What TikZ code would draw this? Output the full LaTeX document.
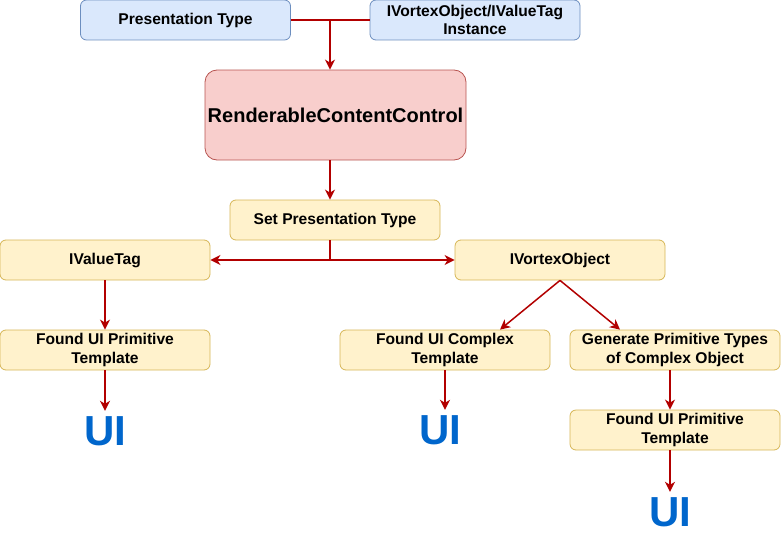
\documentclass[tikz,border=0pt]{standalone}
\usepackage{fontspec}
\setmainfont{Liberation Sans}
\usetikzlibrary{arrows.meta,calc}
\definecolor{bluefill}{HTML}{DAE8FC}
\definecolor{bluedraw}{HTML}{6C8EBF}
\definecolor{redfill}{HTML}{F8CECC}
\definecolor{reddraw}{HTML}{B85450}
\definecolor{yelfill}{HTML}{FFF2CC}
\definecolor{yeldraw}{HTML}{D6B656}
\definecolor{arrred}{HTML}{B20000}
\definecolor{uiblue}{HTML}{0066CC}
\begin{document}
\begin{tikzpicture}[x=1pt,y=-1pt,
  box/.style={rectangle,rounded corners=6pt,line width=0.8pt,minimum width=210pt,minimum height=40pt,
    inner sep=0pt,align=center,font=\fontsize{15.6}{18.7}\selectfont\bfseries},
  bluebox/.style={box,fill=bluefill,draw=bluedraw},
  redbox/.style={box,fill=redfill,draw=reddraw,rounded corners=12pt,minimum width=261pt,minimum height=90pt,
    font=\fontsize{20}{24}\selectfont\bfseries},
  yelbox/.style={box,fill=yelfill,draw=yeldraw},
  uitext/.style={inner sep=0pt,text height=30pt,text depth=0pt,text=uiblue,
    font=\fontsize{42}{42}\selectfont\bfseries},
  conn/.style={draw=arrred,line width=1.5pt},
  arr/.style={conn,-{Stealth[length=10pt,width=10pt,inset=3pt]}}]
\useasboundingbox (0,0) rectangle (781,535);
\node[bluebox] (pt) at (185.5,20) {Presentation Type};
\node[bluebox] (inst) at (475,20) {IVortexObject/IValueTag\\Instance};
\node[redbox] (rcc) at (335.5,115) {RenderableContentControl};
\node[yelbox] (set) at (335,220) {Set Presentation Type};
\node[yelbox] (ivt) at (105,260) {IValueTag};
\node[yelbox] (ivo) at (560,260) {IVortexObject};
\node[yelbox] (fpl) at (105,350) {Found UI Primitive\\Template};
\node[yelbox] (fc) at (445,350) {Found UI Complex\\Template};
\node[yelbox] (gen) at (675,350) {Generate Primitive Types\\of Complex Object};
\node[yelbox] (fpr) at (675,430) {Found UI Primitive\\Template};
\node[uitext] (ui1) at (105,430) {UI};
\node[uitext] (ui2) at (440,429) {UI};
\node[uitext] (ui3) at (670,511) {UI};
\coordinate (j1) at (330,20);
\coordinate (j2) at (330,260);
\draw[conn] (pt.east) -- (inst.west);
\draw[arr] (j1) -- (j1 |- rcc.north);
\draw[arr] (rcc.south -| j1) -- (j1 |- set.north);
\draw[conn] (j1 |- set.south) -- (j2);
\draw[arr] (j2) -- (ivt.east);
\draw[arr] (j2) -- (ivo.west);
\draw[arr] (ivt.south) -- (fpl.north);
\draw[arr] (fpl.south) -- ($(ui1.north)+(0,-4)$);
\draw[arr] (ivo.south) -- ($(fc.north)+(55,0)$);
\draw[arr] (ivo.south) -- ($(gen.north)+(-55,0)$);
\draw[arr] (fc.south) -- ($(fc.south |- ui2.north)+(0,-4)$);
\draw[arr] ($(gen.south)+(-5,0)$) -- ($(fpr.north)+(-5,0)$);
\draw[arr] ($(fpr.south)+(-5,0)$) -- ($(ui3.north)+(0,-4)$);
\end{tikzpicture}
\end{document}
